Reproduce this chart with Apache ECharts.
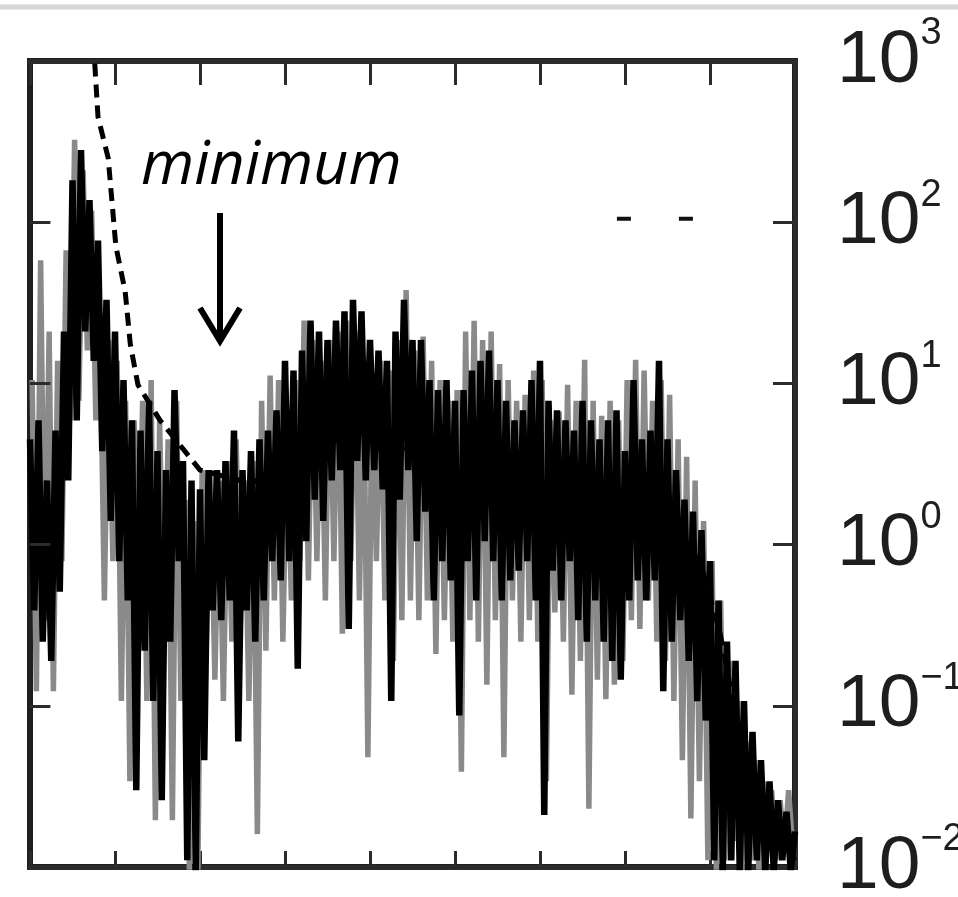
<!DOCTYPE html>
<html>
<head>
<meta charset="utf-8">
<script src="https://cdn.jsdelivr.net/npm/echarts@6/dist/echarts.min.js"></script>
<style>
  html, body { margin: 0; padding: 0; background: #fff; overflow: hidden; }
  #chart { width: 958px; height: 897px; }
</style>
</head>
<body>
<div id="chart"></div>
<script>
// sampling of the spectrum along x (axis runs 0..9)
const freqStep = 0.05;
const grayOffset = 0.025;

// black trace, one value per step
const blackLevels = [
  4.5, 0.39, 5.9, 0.25, 2.5, 0.19, 5.1, 0.51, 21, 2.5,
  182, 5.9, 280, 21, 137, 13.8, 77, 3.8, 33, 1.4,
  21, 0.79, 10.5, 0.45, 5.9, 0.03, 5.1, 0.22, 7.8, 0.107,
  3.8, 0.026, 2.9, 0.25, 9.1, 0.79, 3.3, 0.011, 2.5, 0.0095,
  2.2, 0.046, 2.9, 0.39, 2.9, 0.34, 3.3, 0.45, 5.1, 0.06,
  2.9, 0.39, 3.8, 0.25, 4.5, 0.45, 5.1, 0.79, 6.8, 0.6,
  13.8, 0.79, 12, 0.17, 16, 1.05, 24.5, 1.9, 21, 1.4,
  18.6, 2.5, 24.5, 2.9, 28, 0.3, 33, 3.3, 28, 2.5,
  18.6, 2.9, 16, 2.2, 13.8, 0.107, 21, 1.9, 33, 2.9,
  18.6, 1.05, 18.6, 1.6, 10.5, 0.45, 9.1, 0.79, 10.5, 0.6,
  7.8, 0.087, 9.1, 0.79, 12, 0.45, 13.8, 1.05, 16, 0.79,
  10.5, 0.45, 7.8, 0.6, 5.9, 0.69, 6.8, 0.79, 10.5, 0.45,
  13.8, 0.021, 7.8, 0.69, 6.8, 0.45, 5.9, 0.79, 5.1, 0.34,
  7.8, 0.25, 5.9, 0.45, 4.5, 0.25, 5.9, 0.19, 6.8, 0.145,
  3.8, 0.45, 10.5, 0.6, 4.5, 0.45, 5.1, 0.6, 13.8, 0.123,
  4.5, 0.25, 2.9, 0.34, 1.9, 0.19, 1.6, 0.107, 1.23, 0.081,
  0.79, 0.011, 0.45, 0.0095, 0.25, 0.011, 0.19, 0.0095, 0.107, 0.0095,
  0.069, 0.011, 0.046, 0.0095, 0.034, 0.0095, 0.026, 0.011, 0.022, 0.0095,
  0.0166
];

// gray trace, sampled half a step later
const grayLevels = [
  10.5, 0.123, 58, 0.34, 21, 0.123, 13.8, 0.79, 67, 5.9,
  324, 7.8, 210, 16, 118, 5.9, 21, 0.45, 18.6, 0.79,
  13.8, 0.107, 7.8, 0.034, 5.9, 0.34, 7.8, 0.107, 10.5, 0.0195,
  5.9, 0.22, 4.5, 0.0195, 7.8, 0.107, 1.9, 0.0095, 1.4, 0.0095,
  2.9, 0.25, 2.9, 0.145, 2.5, 0.107, 3.3, 0.25, 4.5, 0.34,
  2.5, 0.107, 3.3, 0.016, 7.8, 0.22, 11.2, 0.45, 10.5, 0.25,
  5.9, 0.45, 10.5, 0.79, 24.5, 0.6, 18.6, 0.79, 13.8, 0.45,
  18.6, 0.79, 21, 0.28, 24.5, 0.79, 21, 0.45, 13.8, 0.048,
  10.5, 0.79, 13.8, 0.45, 12, 0.19, 18.6, 0.34, 38, 0.45,
  16, 0.34, 19.5, 0.45, 13.8, 0.21, 10.5, 0.34, 7.8, 0.25,
  9.1, 0.039, 21, 0.34, 24.5, 0.25, 18.6, 0.135, 21, 0.34,
  13.2, 0.048, 10.5, 0.45, 7.8, 0.25, 8.5, 0.34, 12, 0.25,
  10.5, 0.034, 5.9, 0.38, 6.7, 0.25, 9.8, 0.117, 7.8, 0.19,
  14, 0.023, 7.8, 0.145, 6.3, 0.11, 7.8, 0.135, 5.9, 0.19,
  10.5, 0.34, 14, 0.3, 12, 0.45, 7.8, 0.25, 10.5, 0.19,
  8.5, 0.107, 4.5, 0.046, 3.5, 0.02, 2.5, 0.034, 1.4, 0.011,
  0.79, 0.0095, 0.45, 0.011, 0.19, 0.0145, 0.107, 0.0095, 0.06, 0.011,
  0.046, 0.0095, 0.034, 0.0126, 0.03, 0.011, 0.026, 0.0126, 0.03, 0.0126
];

// dashed model curve [x, value]
const modelCurve = [
  [0.74, 1300], [0.76, 1000], [0.80, 450], [0.92, 250], [1.01, 71],
  [1.12, 37], [1.18, 17.5], [1.27, 9.8], [1.53, 5.9], [2.0, 2.9],
  [2.6, 2.4], [3.2, 3.5], [3.8, 5], [4.4, 4], [5.0, 3],
  [5.6, 2.6], [6.2, 2.2], [6.8, 2], [7.4, 1.4], [7.88, 0.8],
  [8.12, 0.28], [8.27, 0.107], [8.47, 0.04], [8.7, 0.019], [9.0, 0.011]
];

// short dashed level near 10^2
const levelDash = [[6.905, 105], [7.82, 105]];

// decades that get an inward tick on the left frame
const leftTickDecades = [0.1, 1, 10, 100];
const leftTickLen = 0.24; // in x units

const xMin = 0, xMax = 9;
const yMin = 0.01, yMax = 1000;

const chart = echarts.init(document.getElementById('chart'));

const frameLine = { show: true, onZero: false, lineStyle: { color: '#2b2b2b', width: 5 } };
const tick = len => ({ inside: true, length: len, lineStyle: { color: '#2b2b2b', width: 3 } });
const sup = n => String(n).replace('-', '\u2212');

chart.setOption({
  animation: false,
  backgroundColor: '#fff',
  grid: { left: 30, right: 163, top: 61, bottom: 30, containLabel: false, outerBoundsMode: 'none',
          show: true, borderColor: '#1f1f1f', borderWidth: 6 },
  xAxis: [
    { type: 'value', position: 'bottom', min: xMin, max: xMax, interval: 1,
      axisLine: frameLine, axisTick: tick(16),
      axisLabel: { show: false }, splitLine: { show: false } },
    { type: 'value', position: 'top', min: xMin, max: xMax, interval: 1,
      axisLine: frameLine, axisTick: tick(24),
      axisLabel: { show: false }, splitLine: { show: false } }
  ],
  yAxis: [
    { type: 'log', logBase: 10, position: 'right', min: yMin, max: yMax,
      axisLine: frameLine, axisTick: tick(22),
      splitLine: { show: false },
      axisLabel: {
        margin: 42, color: '#1e1e1e',
        formatter: v => '{b|10}{s|' + sup(Math.round(Math.log10(v))) + '}',
        rich: {
          b: { fontFamily: 'Liberation Sans', fontSize: 75, lineHeight: 92, color: '#1e1e1e' },
          s: { fontFamily: 'Liberation Sans', fontSize: 38, lineHeight: 38, verticalAlign: 'top', color: '#1e1e1e' }
        }
      } }
  ],
  series: [
    { name: 'gray', type: 'line', showSymbol: false,
      lineStyle: { color: '#8a8a8a', width: 5.5 },
      data: grayLevels.map((v, i) => [grayOffset + i * freqStep, v]) },
    { name: 'model', type: 'line', showSymbol: false,
      lineStyle: { color: '#000', width: 5, type: [13, 8] },
      data: modelCurve },
    { name: 'black', type: 'line', showSymbol: false,
      lineStyle: { color: '#000', width: 6.5, join: 'bevel' },
      data: blackLevels.map((v, i) => [i * freqStep, v]) },
    { name: 'level', type: 'line', showSymbol: false,
      lineStyle: { color: '#111', width: 4, type: [14, 48] },
      data: levelDash,
      // inward ticks of the left frame
      markLine: {
        silent: true, symbol: 'none', label: { show: false },
        lineStyle: { color: '#2b2b2b', width: 3, type: 'solid' },
        data: leftTickDecades.map(d => [{ coord: [xMin, d] }, { coord: [xMin + leftTickLen, d] }])
      } }
  ],
  graphic: [
    { type: 'line', shape: { x1: 0, y1: 7, x2: 958, y2: 7 }, style: { stroke: '#d6d6d6', lineWidth: 5 } },
    { type: 'text', x: 141, y: 167,
      style: { text: 'minimum', font: 'italic 61px "Open Sans"', fill: '#000', verticalAlign: 'middle' } },
    { type: 'line', shape: { x1: 220, y1: 213, x2: 220, y2: 340 }, style: { stroke: '#000', lineWidth: 6 } },
    { type: 'polyline', shape: { points: [[200, 308], [220, 341], [240, 308]] },
      style: { stroke: '#000', lineWidth: 6, fill: null } }
  ]
});
</script>
</body>
</html>
